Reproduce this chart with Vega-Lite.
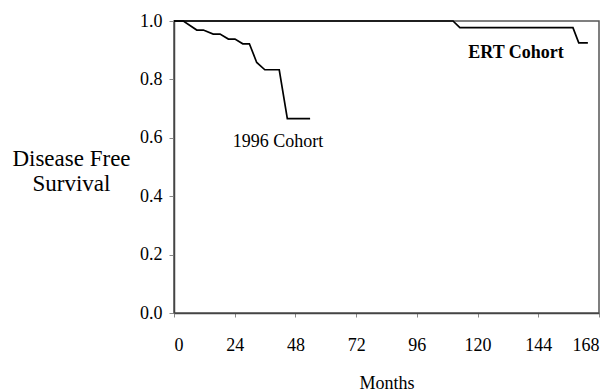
{
  "$schema": "https://vega.github.io/schema/vega-lite/v6.json",
  "width": 425,
  "height": 292,
  "autosize": {"type": "none"},
  "padding": {"left": 174, "top": 21, "right": 11, "bottom": 78},
  "background": "white",
  "config": {
    "font": "Liberation Serif, Times New Roman, DejaVu Serif, serif",
    "view": {"stroke": "#555", "strokeWidth": 1.5},
    "axis": {"grid": false, "labelFont": "Liberation Serif, Times New Roman, DejaVu Serif, serif", "titleFont": "Liberation Serif, Times New Roman, DejaVu Serif, serif", "labelColor": "black", "titleColor": "black", "titleFontWeight": "normal", "domainColor": "#444", "domainWidth": 1.5, "tickColor": "#888"},
    "text": {"font": "Liberation Serif, Times New Roman, DejaVu Serif, serif"}
  },
  "datasets": {
    "curves": [
      {"series": "1996", "i": 0, "month": 0, "surv": 1.0},
      {"series": "1996", "i": 1, "month": 3.7, "surv": 1.0},
      {"series": "1996", "i": 2, "month": 9.0, "surv": 0.969},
      {"series": "1996", "i": 3, "month": 11.6, "surv": 0.969},
      {"series": "1996", "i": 4, "month": 15.5, "surv": 0.955},
      {"series": "1996", "i": 5, "month": 18.2, "surv": 0.955},
      {"series": "1996", "i": 6, "month": 21.5, "surv": 0.938},
      {"series": "1996", "i": 7, "month": 24.1, "surv": 0.938},
      {"series": "1996", "i": 8, "month": 27.2, "surv": 0.922},
      {"series": "1996", "i": 9, "month": 29.8, "surv": 0.922},
      {"series": "1996", "i": 10, "month": 32.7, "surv": 0.858},
      {"series": "1996", "i": 11, "month": 35.9, "surv": 0.833},
      {"series": "1996", "i": 12, "month": 41.6, "surv": 0.833},
      {"series": "1996", "i": 13, "month": 44.8, "surv": 0.666},
      {"series": "1996", "i": 14, "month": 53.8, "surv": 0.666},
      {"series": "ERT", "i": 0, "month": 0, "surv": 1.0},
      {"series": "ERT", "i": 1, "month": 110.3, "surv": 1.0},
      {"series": "ERT", "i": 2, "month": 113, "surv": 0.977},
      {"series": "ERT", "i": 3, "month": 157.7, "surv": 0.977},
      {"series": "ERT", "i": 4, "month": 160, "surv": 0.925},
      {"series": "ERT", "i": 5, "month": 163.6, "surv": 0.925}
    ],
    "labels": [
      {"label": "1996 Cohort", "month": 41.1, "surv": 0.585},
      {"label": "ERT Cohort", "month": 135.2, "surv": 0.892}
    ]
  },
  "layer": [
    {
      "data": {"name": "curves"},
      "mark": {"type": "line", "color": "black", "strokeWidth": 1.7},
      "encoding": {
        "x": {"field": "month", "type": "quantitative", "scale": {"domain": [0, 168], "nice": false},
          "axis": {"values": [0, 24, 48, 72, 96, 120, 144, 168], "format": "d", "labelFontSize": 18, "labelPadding": 19, "tickSize": 4,
            "title": "Months", "titleFontSize": 18, "titleAnchor": "middle", "titleBaseline": "alphabetic", "titleY": 75}},
        "y": {"field": "surv", "type": "quantitative", "scale": {"domain": [0, 1], "nice": false},
          "axis": {"values": [0, 0.2, 0.4, 0.6, 0.8, 1.0], "format": ".1f", "labelFontSize": 18, "labelPadding": 7, "tickSize": 5,
            "title": ["Disease Free", "Survival"], "titleFontSize": 23, "titleAngle": 0, "titleAlign": "center", "titleBaseline": "alphabetic", "titleX": -103, "titleY": 144, "titleLineHeight": 25}},
        "detail": {"field": "series"},
        "order": {"field": "i", "type": "quantitative"}
      }
    },
    {
      "data": {"name": "labels"},
      "transform": [{"filter": "datum.label === '1996 Cohort'"}],
      "mark": {"type": "text", "fontSize": 18, "color": "black", "align": "center", "baseline": "middle", "font": "Liberation Serif, Times New Roman, serif"},
      "encoding": {
        "x": {"field": "month", "type": "quantitative"},
        "y": {"field": "surv", "type": "quantitative"},
        "text": {"field": "label"}
      }
    },
    {
      "data": {"name": "labels"},
      "transform": [{"filter": "datum.label === 'ERT Cohort'"}],
      "mark": {"type": "text", "fontSize": 18, "fontWeight": "bold", "color": "black", "align": "center", "baseline": "middle", "font": "Liberation Serif, Times New Roman, serif"},
      "encoding": {
        "x": {"field": "month", "type": "quantitative"},
        "y": {"field": "surv", "type": "quantitative"},
        "text": {"field": "label"}
      }
    }
  ]
}
